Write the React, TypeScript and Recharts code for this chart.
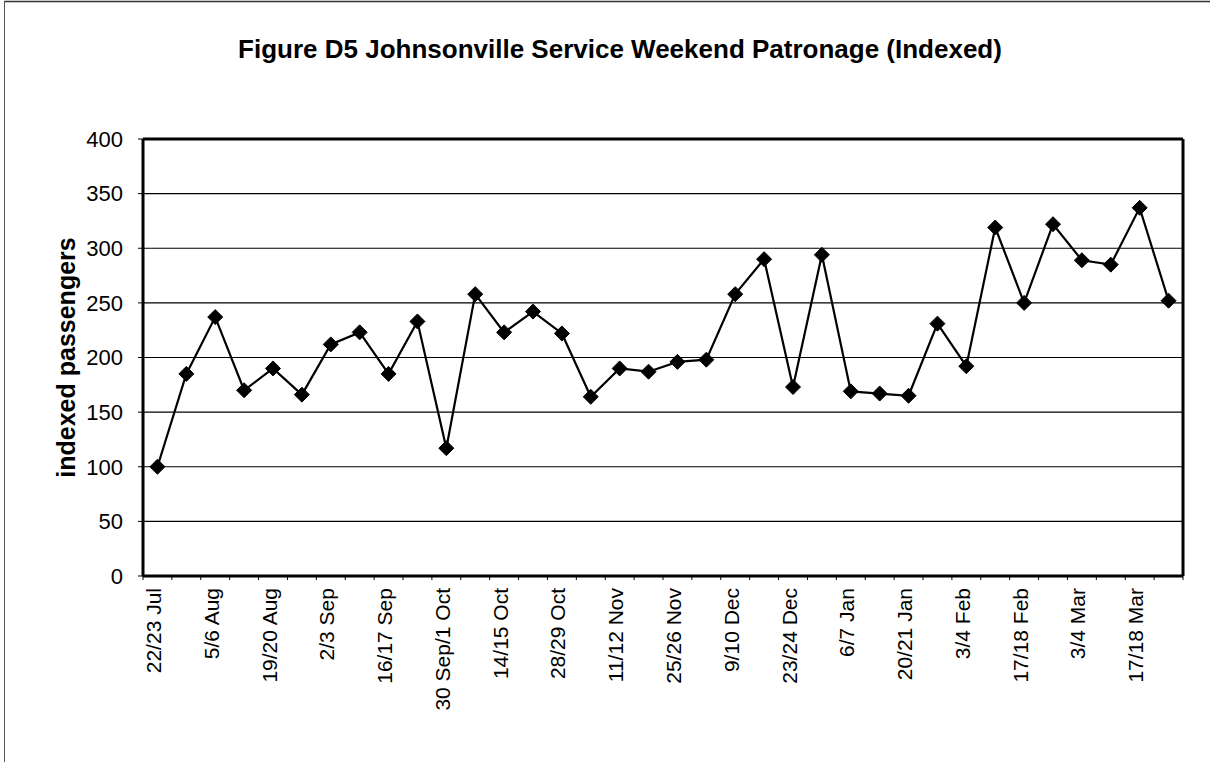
import React from "react";
import { LineChart, Line, XAxis, YAxis, CartesianGrid } from "recharts";

// Weekend dates (each category is one Saturday/Sunday pair)
const weekends: string[] = [
  "22/23 Jul", "29/30 Jul", "5/6 Aug", "12/13 Aug", "19/20 Aug", "26/27 Aug",
  "2/3 Sep", "9/10 Sep", "16/17 Sep", "23/24 Sep", "30 Sep/1 Oct", "7/8 Oct",
  "14/15 Oct", "21/22 Oct", "28/29 Oct", "4/5 Nov", "11/12 Nov", "18/19 Nov",
  "25/26 Nov", "2/3 Dec", "9/10 Dec", "16/17 Dec", "23/24 Dec", "30/31 Dec",
  "6/7 Jan", "13/14 Jan", "20/21 Jan", "27/28 Jan", "3/4 Feb", "10/11 Feb",
  "17/18 Feb", "24/25 Feb", "3/4 Mar", "10/11 Mar", "17/18 Mar", "24/25 Mar",
];

// Indexed passengers (first weekend = 100)
const indexedPassengers: number[] = [
  100, 185, 237, 170, 190, 166, 212, 223, 185, 233, 117, 258,
  223, 242, 222, 164, 190, 187, 196, 198, 258, 290, 173, 294,
  169, 167, 165, 231, 192, 319, 250, 322, 289, 285, 337, 252,
];

const yTicks: number[] = [0, 50, 100, 150, 200, 250, 300, 350, 400];

const TITLE = "Figure D5 Johnsonville Service Weekend Patronage (Indexed)";
const Y_LABEL = "indexed passengers";

const data = weekends.map((week, i) => ({ week, value: indexedPassengers[i] }));

const FONT = "'Liberation Sans', Arial, Helvetica, sans-serif";

// Solid black diamond marker
const Diamond = (props: any) => {
  const { cx, cy } = props;
  if (cx == null || cy == null) return null;
  const r = 7.5;
  return (
    <polygon
      points={`${cx},${cy - r} ${cx + r},${cy} ${cx},${cy + r} ${cx - r},${cy}`}
      fill="#000"
      stroke="#000"
      strokeWidth={1}
    />
  );
};

// Category tick: small mark on the band boundary, label on every second week
const WeekTick = (props: any) => {
  const { x, y, payload, index } = props;
  const idx = payload?.index ?? index ?? 0;
  const half = payload?.offset || 14.45;
  const last = idx === weekends.length - 1;
  return (
    <g>
      <line x1={x - half} y1={y - 8} x2={x - half} y2={y - 4} stroke="#000" strokeWidth={1} />
      {last && (
        <line x1={x + half} y1={y - 8} x2={x + half} y2={y - 4} stroke="#000" strokeWidth={1} />
      )}
      {idx % 2 === 0 && (
        <text
          x={x - 4}
          y={y + 4}
          transform={`rotate(-90, ${x - 4}, ${y + 4})`}
          textAnchor="end"
          dy="0.36em"
          fontSize={21}
          fontFamily={FONT}
          fill="#000"
        >
          {payload.value}
        </text>
      )}
    </g>
  );
};

const YAxisTitle = (props: any) => {
  const vb = props.viewBox || { x: 0, y: 139, width: 143, height: 437 };
  const cx = vb.x + 66;
  const cy = vb.y + vb.height / 2;
  return (
    <text
      x={cx}
      y={cy}
      transform={`rotate(-90, ${cx}, ${cy})`}
      textAnchor="middle"
      dominantBaseline="central"
      fontSize={25}
      fontWeight="bold"
      fontFamily={FONT}
      fill="#000"
    >
      {Y_LABEL}
    </text>
  );
};

// Plot frame: top edge and right edge of the plotting area
const frameTop = ({ offset }: any) => [offset.top];
const frameRight = ({ offset }: any) => [offset.left + offset.width];

export default function App() {
  return (
    <div style={{ position: "absolute", left: 0, top: 0, width: 1210, height: 770, background: "#fff" }}>
      {/* page frame and heading */}
      <svg
        width={1210}
        height={770}
        style={{ position: "absolute", left: 0, top: 0, pointerEvents: "none" }}
      >
        <line x1={4} y1={1.5} x2={1210} y2={1.5} stroke="#333" strokeWidth={1.5} />
        <line x1={4.5} y1={1} x2={4.5} y2={762} stroke="#555" strokeWidth={1} />
        <text
          x={620}
          y={58}
          textAnchor="middle"
          fontSize={26}
          fontWeight="bold"
          fontFamily={FONT}
          fill="#000"
        >
          {TITLE}
        </text>
      </svg>
      <div style={{ position: "absolute", left: 0, top: 0 }}>
        <LineChart
          width={1210}
          height={770}
          data={data}
          margin={{ top: 139, right: 27, bottom: 44, left: 0 }}
        >
          <CartesianGrid vertical={false} stroke="#000" strokeWidth={1.2} />
          <CartesianGrid
            horizontalCoordinatesGenerator={frameTop}
            verticalCoordinatesGenerator={frameRight}
            stroke="#000"
            strokeWidth={3}
          />
          <XAxis
            dataKey="week"
            scale="band"
            interval={0}
            height={150}
            tick={<WeekTick />}
            tickLine={false}
            axisLine={{ stroke: "#000", strokeWidth: 3 }}
          />
          <YAxis
            domain={[0, 400]}
            ticks={yTicks}
            interval={0}
            width={143}
            tickSize={5}
            tickMargin={15}
            tickLine={{ stroke: "#000", strokeWidth: 1 }}
            axisLine={{ stroke: "#000", strokeWidth: 3 }}
            tick={{ fontSize: 22, fontFamily: FONT, fill: "#000" }}
            label={{ content: <YAxisTitle /> } as any}
          />
          <Line
            type="linear"
            dataKey="value"
            stroke="#000"
            strokeWidth={2.2}
            dot={<Diamond />}
            activeDot={false}
            isAnimationActive={false}
          />
        </LineChart>
      </div>
    </div>
  );
}
